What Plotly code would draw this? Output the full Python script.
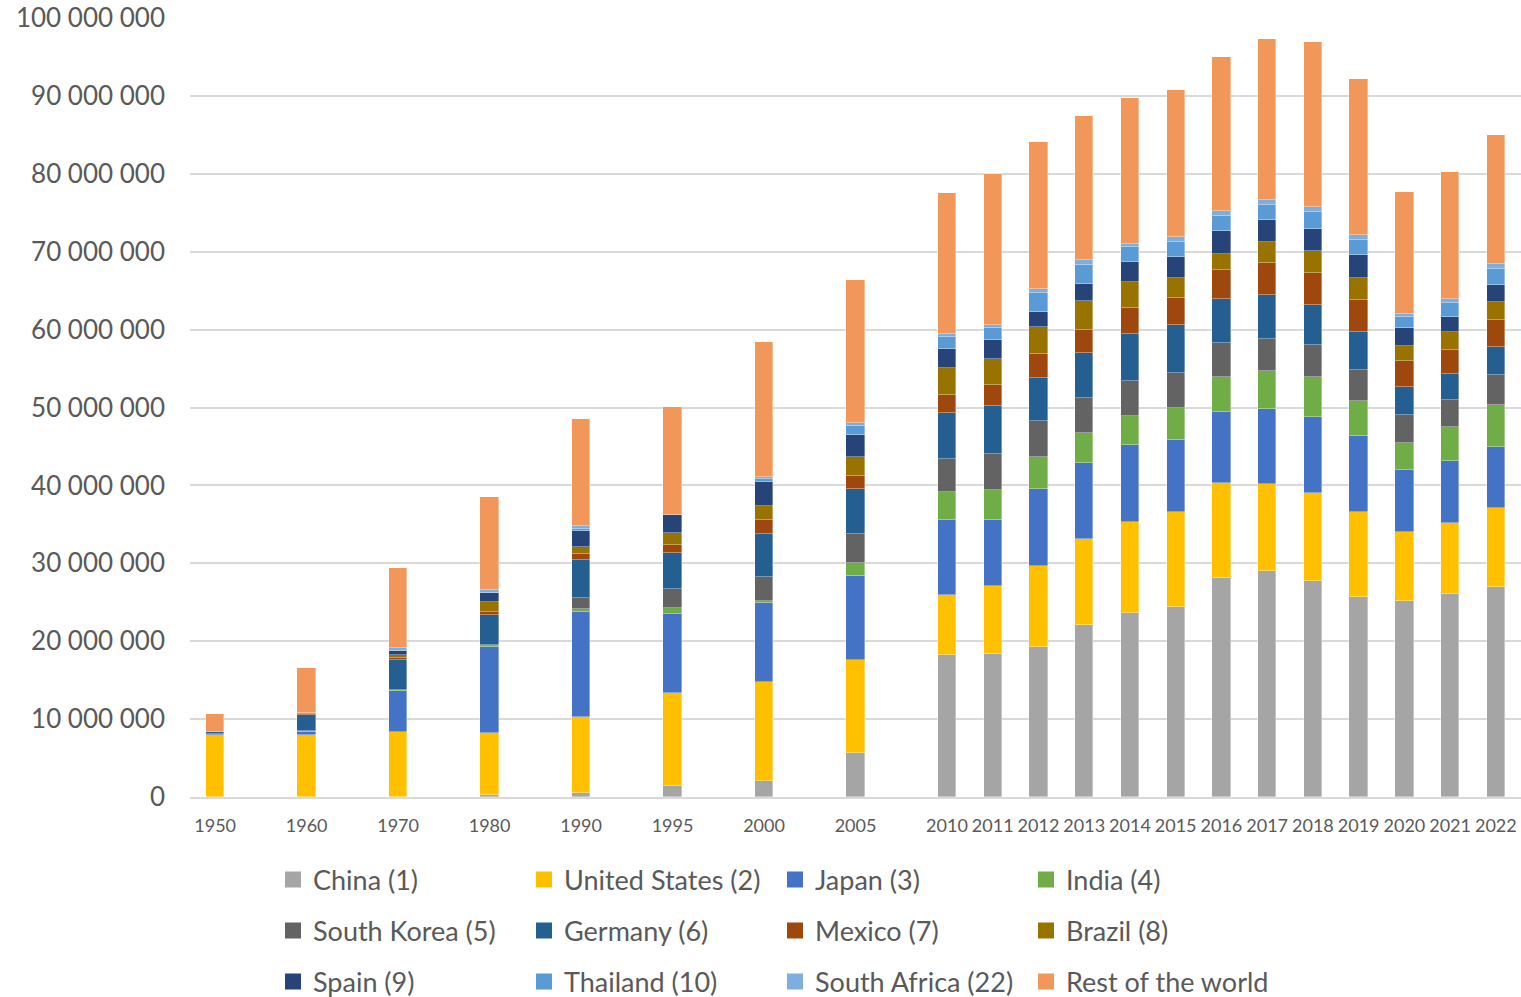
import plotly.graph_objects as go

# ---- data (values in millions of vehicles) ----
early_years = ["1950", "1960", "1970", "1980", "1990", "1995", "2000", "2005"]
recent_years = ["2010", "2011", "2012", "2013", "2014", "2015", "2016",
                "2017", "2018", "2019", "2020", "2021", "2022"]
years = early_years + recent_years

china = [0, 0, 0, 0.2, 0.46, 1.4, 2.0, 5.6, 18.2, 18.4, 19.25, 22.1, 23.65, 24.4, 28.1, 29.0, 27.75, 25.7, 25.15, 26.05, 27.0]
united_states = [8.0, 7.95, 8.35, 8.0, 9.78, 12.0, 12.8, 11.97, 7.72, 8.66, 10.34, 11.07, 11.7, 12.14, 12.15, 11.14, 11.3, 10.92, 8.83, 9.15, 10.04]
japan = [0.03, 0.45, 5.27, 11.02, 13.5, 10.1, 10.1, 10.86, 9.65, 8.45, 9.92, 9.66, 9.79, 9.34, 9.22, 9.72, 9.79, 9.66, 8.0, 7.93, 7.87]
india = [0.01, 0.05, 0.08, 0.14, 0.36, 0.7, 0.25, 1.57, 3.57, 3.88, 4.14, 3.9, 3.83, 4.1, 4.47, 4.86, 5.12, 4.54, 3.52, 4.35, 5.37]
south_korea = [0, 0, 0.03, 0.12, 1.4, 2.53, 3.08, 3.78, 4.3, 4.62, 4.56, 4.48, 4.48, 4.48, 4.29, 4.1, 4.1, 3.97, 3.52, 3.46, 3.84]
germany = [0.3, 2.1, 3.9, 3.88, 4.91, 4.59, 5.51, 5.71, 5.88, 6.14, 5.61, 5.76, 5.95, 6.07, 5.76, 5.56, 5.05, 4.92, 3.65, 3.33, 3.65]
mexico = [0, 0.05, 0.19, 0.37, 0.82, 1.0, 1.88, 1.73, 2.31, 2.68, 3.1, 3.01, 3.33, 3.59, 3.65, 4.23, 4.1, 4.03, 3.26, 3.13, 3.52]
brazil = [0, 0.13, 0.4, 1.25, 0.92, 1.61, 1.7, 2.47, 3.41, 3.46, 3.36, 3.71, 3.39, 2.49, 2.11, 2.62, 2.94, 2.88, 1.98, 2.3, 2.3]
spain = [0, 0.06, 0.54, 1.15, 2.02, 2.3, 3.08, 2.78, 2.41, 2.36, 2.0, 2.11, 2.5, 2.69, 2.88, 2.81, 2.75, 2.94, 2.24, 1.98, 2.18]
thailand = [0, 0, 0.02, 0.1, 0.28, 0, 0.41, 1.1, 1.57, 1.57, 2.36, 2.5, 1.92, 1.92, 1.92, 1.99, 2.18, 1.92, 1.41, 1.73, 1.98]
south_africa = [0, 0, 0.3, 0.4, 0.37, 0, 0.32, 0.47, 0.47, 0.42, 0.52, 0.64, 0.45, 0.7, 0.64, 0.57, 0.64, 0.7, 0.45, 0.51, 0.64]
rest_of_world = [2.28, 5.74, 10.3, 11.89, 13.71, 13.82, 17.23, 18.38, 18.05, 19.33, 18.92, 18.52, 18.71, 18.8, 19.82, 20.65, 21.14, 19.95, 15.66, 16.25, 16.57]

series_names = ["China (1)", "United States (2)", "Japan (3)", "India (4)",
                "South Korea (5)", "Germany (6)", "Mexico (7)", "Brazil (8)",
                "Spain (9)", "Thailand (10)", "South Africa (22)", "Rest of the world"]
series_values = [china, united_states, japan, india, south_korea, germany,
                 mexico, brazil, spain, thailand, south_africa, rest_of_world]
colors = ["#A5A5A5", "#FFC000", "#4472C4", "#70AD47", "#636363", "#255E91",
          "#9E480E", "#997300", "#264478", "#5B9BD5", "#7CAFDD", "#F1975A"]

UNIT = 1_000_000

# ---- slot positions: early years every other slot, recent years every slot ----
positions = [2 * i for i in range(len(early_years))] + \
            [2 * len(early_years) + j for j in range(len(recent_years))]

FONT = "Lato, 'Open Sans', sans-serif"
TXT = "#595959"

fig = go.Figure()
for name, vals, col in zip(series_names, series_values, colors):
    fig.add_trace(go.Bar(
        x=positions, y=[v * UNIT for v in vals], name=name,
        marker=dict(color=col, line=dict(color="rgba(255,255,255,0.6)", width=0.6)),
        width=0.4, showlegend=False,
    ))

# legend entries (3 rows of 4)
legend_ids = ["legend", "legend2", "legend3"]
for k, (name, col) in enumerate(zip(series_names, colors)):
    fig.add_trace(go.Scatter(
        x=[None], y=[None], mode="markers", name=name,
        marker=dict(symbol="square", size=17, color=col),
        legend=legend_ids[k // 4], showlegend=True,
    ))

L, T, B = 190, 18, 200
W, H = 1521, 997
plot_h = H - T - B
plot_w = W - L

def row_y(py):
    return (H - B - py) / plot_h

leg_common = dict(orientation="h", entrywidth=206, entrywidthmode="pixels",
                  traceorder="normal",
                  font=dict(family=FONT, size=27, color=TXT),
                  bgcolor="rgba(0,0,0,0)", xanchor="left", yanchor="middle",
                  itemclick=False, itemdoubleclick=False)
leg_x = (273 - L) / plot_w

fig.update_layout(
    width=W, height=H,
    margin=dict(l=L, r=0, t=T, b=B, autoexpand=False),
    barmode="stack", bargap=0,
    plot_bgcolor="white", paper_bgcolor="white",
    separators=". ",
    font=dict(family=FONT, color=TXT),
    xaxis=dict(
        range=[-0.55, positions[-1] + 0.55],
        tickmode="array", tickvals=positions, ticktext=years,
        tickfont=dict(family=FONT, size=18, color=TXT),
        showgrid=False, zeroline=False, ticks="",
        showline=True, linecolor="#D9D9D9", linewidth=1.5,
        ticklabelstandoff=12,
    ),
    yaxis=dict(
        range=[0, 100 * UNIT], dtick=10 * UNIT, tickformat=",d",
        tickfont=dict(family=FONT, size=26, color=TXT),
        showgrid=True, gridcolor="#D9D9D9", gridwidth=1.5,
        zeroline=False, ticks="", showline=False,
        ticklabelstandoff=24,
    ),
    legend=dict(x=leg_x, y=row_y(880), **leg_common),
    legend2=dict(x=leg_x, y=row_y(931), **leg_common),
    legend3=dict(x=leg_x, y=row_y(982), **leg_common),
)

fig.write_html("out.html")
